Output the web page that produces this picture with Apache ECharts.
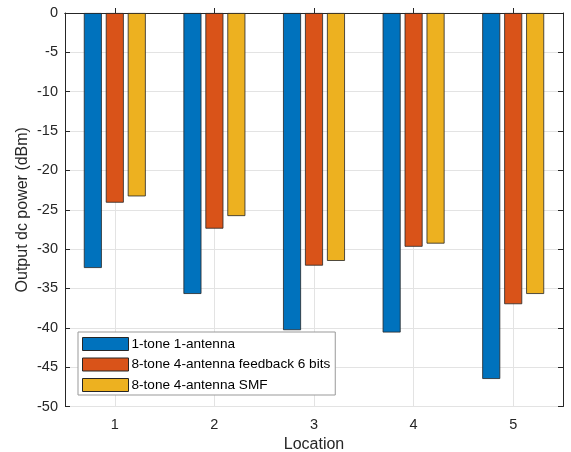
<!DOCTYPE html>
<html>
<head>
<meta charset="utf-8">
<script src="https://cdn.jsdelivr.net/npm/echarts@6/dist/echarts.min.js"></script>
<style>html,body{margin:0;padding:0;background:#fff}#c{width:571px;height:452px}</style>
</head>
<body>
<div id="c"></div>
<script>
const categories = ['1', '2', '3', '4', '5'];
const seriesNames = ['1-tone 1-antenna', '8-tone 4-antenna feedback 6 bits', '8-tone 4-antenna SMF'];
const oneTone = [-32.4, -35.7, -40.3, -40.6, -46.5];
const eightToneFeedback = [-24.1, -27.4, -32.1, -29.7, -37.0];
const eightToneSMF = [-23.3, -25.8, -31.5, -29.3, -35.7];
const yMin = -50, yMax = 0, yStep = 5;

const colors = ['#0072BD', '#D95319', '#EDB120'];
const font = 'Liberation Sans, Arial, Helvetica, sans-serif';
const axisColor = '#262626';
const gridColor = '#e3e3e3';

const chart = echarts.init(document.getElementById('c'), null, {renderer: 'canvas'});
const values = [oneTone, eightToneFeedback, eightToneSMF];

chart.setOption({
  animation: false,
  backgroundColor: '#fff',
  grid: {left: 65, right: 8, top: 13, bottom: 45.5, containLabel: false, outerBoundsMode: 'none'},
  legend: {
    orient: 'vertical',
    left: 78, top: 332,
    itemWidth: 46, itemHeight: 13, itemGap: 6.5,
    padding: [5, 5, 3, 4],
    borderColor: '#999', borderWidth: 1,
    backgroundColor: '#fff',
    icon: 'rect',
    textStyle: {fontFamily: font, fontSize: 13.6, color: '#000', padding: [0, 0, 0, -2]},
    itemStyle: {borderColor: '#262626', borderWidth: 1},
    data: seriesNames
  },
  xAxis: [{
    type: 'category', data: categories, position: 'bottom',
    name: 'Location', nameLocation: 'middle', nameGap: 30, nameMoveOverlap: false,
    nameTextStyle: {fontFamily: font, fontSize: 16, color: axisColor},
    axisLine: {show: true, lineStyle: {color: axisColor, width: 1}},
    axisTick: {show: true, inside: true, length: 5, alignWithLabel: true, lineStyle: {color: axisColor}},
    axisLabel: {fontFamily: font, fontSize: 14.5, color: axisColor, margin: 11},
    splitLine: {show: true, alignWithLabel: true, lineStyle: {color: gridColor, width: 1}}
  }, {
    type: 'category', data: categories, position: 'top',
    axisLine: {show: true, onZero: false, lineStyle: {color: axisColor, width: 1}},
    axisTick: {show: true, inside: true, length: 5, alignWithLabel: true, lineStyle: {color: axisColor}},
    axisLabel: {show: false},
    splitLine: {show: false}
  }],
  yAxis: [{
    type: 'value', min: yMin, max: yMax, interval: yStep, position: 'left',
    name: 'Output dc power (dBm)', nameLocation: 'middle', nameGap: 34, nameMoveOverlap: false,
    nameTextStyle: {fontFamily: font, fontSize: 16, color: axisColor},
    axisLine: {show: true, onZero: false, lineStyle: {color: axisColor, width: 1}},
    axisTick: {show: true, inside: true, length: 5, lineStyle: {color: axisColor}},
    axisLabel: {fontFamily: font, fontSize: 14.5, color: axisColor, margin: 7},
    splitLine: {show: true, lineStyle: {color: gridColor, width: 1}}
  }, {
    type: 'value', min: yMin, max: yMax, interval: yStep, position: 'right',
    axisLine: {show: true, onZero: false, lineStyle: {color: axisColor, width: 1}},
    axisTick: {show: true, inside: true, length: 5, lineStyle: {color: axisColor}},
    axisLabel: {show: false},
    splitLine: {show: false}
  }],
  series: seriesNames.map((name, i) => ({
    name: name,
    type: 'bar',
    xAxisIndex: 0, yAxisIndex: 0,
    data: values[i],
    barWidth: 18,
    barGap: '22%',
    itemStyle: {color: colors[i], borderColor: '#262626', borderWidth: 0.8}
  }))
});
</script>
</body>
</html>
